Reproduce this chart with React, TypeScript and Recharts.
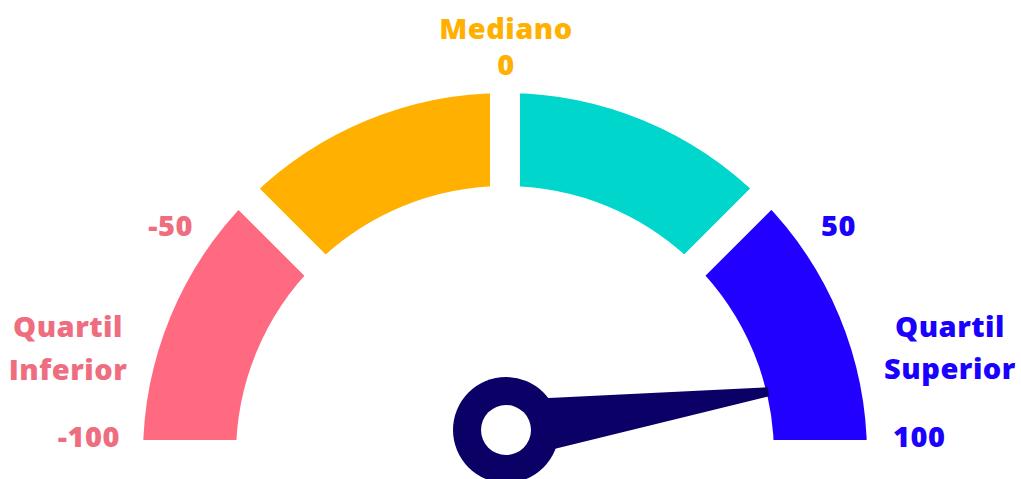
import { Cell, Pie, PieChart } from "recharts";

// gauge bands: boundaries run from -100 to 100 in four equal quartiles
const bandNames = ["Quartil Inferior", "Abaixo da Mediana", "Acima da Mediana", "Quartil Superior"];
const bandWidths = [50, 50, 50, 50];
const bandColors = ["#FF6A81", "#FFB000", "#00D6CC", "#2200FF"];
const tickValues = [-100, -50, 0, 50, 100];
const needleValue = 85;

const W = 1021;
const H = 479;
const CX = 505;
const CY = 455;
const GAP = 30;
const INNER = 254;
const OUTER = 377;

const FONT = "'Open Sans', sans-serif";
const pink = "#EE6E80";
const orange = "#FFB000";
const blue = "#1A00FF";
const navy = "#0B0066";

const bandData = bandNames.map((name, i) => ({ name, value: bandWidths[i] }));

const valueToAngle = (v: number) => {
  const min = tickValues[0];
  const max = tickValues[tickValues.length - 1];
  return ((180 - ((v - min) / (max - min)) * 180) * Math.PI) / 180;
};

const Needle = () => {
  const a = valueToAngle(needleValue);
  const r = INNER + GAP / 2 + 2;
  const tx = CX + r * Math.cos(a);
  const ty = CY - r * Math.sin(a);
  const hx = CX + 1;
  const hy = CY - 25;
  const len = Math.hypot(tx - hx, ty - hy);
  const ux = (tx - hx) / len;
  const uy = (ty - hy) / len;
  const px = -uy;
  const py = ux;
  const base = 30;
  const tip = 4.5;
  const pts = [
    [hx + px * base, hy + py * base],
    [tx + px * tip, ty + py * tip],
    [tx - px * tip, ty - py * tip],
    [hx - px * base, hy - py * base],
  ]
    .map((p) => p.join(","))
    .join(" ");
  return (
    <g>
      <polygon points={pts} fill={navy} />
      <circle cx={hx} cy={hy} r={53} fill={navy} />
      <circle cx={hx} cy={hy} r={25} fill="#fff" />
    </g>
  );
};

const textStyle = { fontFamily: FONT, fontWeight: 800, fontSize: 29, letterSpacing: 0.5 };

export default function App() {
  return (
    <div style={{ position: "absolute", left: 0, top: 0, width: W, height: H, background: "#fff" }}>
      <PieChart width={W} height={H} margin={{ top: 0, right: 0, bottom: 0, left: 0 }}>
        <Pie
          data={bandData}
          dataKey="value"
          cx={CX}
          cy={CY}
          startAngle={180}
          endAngle={0}
          innerRadius={INNER}
          outerRadius={OUTER}
          stroke="#fff"
          strokeWidth={GAP}
          isAnimationActive={false}
        >
          {bandData.map((d, i) => (
            <Cell key={d.name} fill={bandColors[i]} stroke="#fff" strokeWidth={GAP} />
          ))}
        </Pie>
      </PieChart>
      <svg width={W} height={H} style={{ position: "absolute", left: 0, top: 0 }}>
        <Needle />
        <g style={textStyle}>
          <text x={506} y={39} textAnchor="middle" fill={orange}>Mediano</text>
          <text x={506} y={75} textAnchor="middle" fill={orange}>{tickValues[2]}</text>
          <text x={193} y={236} textAnchor="end" fill={pink}>{tickValues[1]}</text>
          <text x={821} y={236} textAnchor="start" fill={blue}>{tickValues[3]}</text>
          <text x={120} y={447} textAnchor="end" fill={pink}>{tickValues[0]}</text>
          <text x={893} y={447} textAnchor="start" fill={blue}>{tickValues[4]}</text>
          <text x={68} y={337} textAnchor="middle" fill={pink}>Quartil</text>
          <text x={68} y={380} textAnchor="middle" fill={pink}>Inferior</text>
          <text x={950} y={337} textAnchor="middle" fill={blue}>Quartil</text>
          <text x={950} y={379} textAnchor="middle" fill={blue}>Superior</text>
        </g>
      </svg>
    </div>
  );
}
